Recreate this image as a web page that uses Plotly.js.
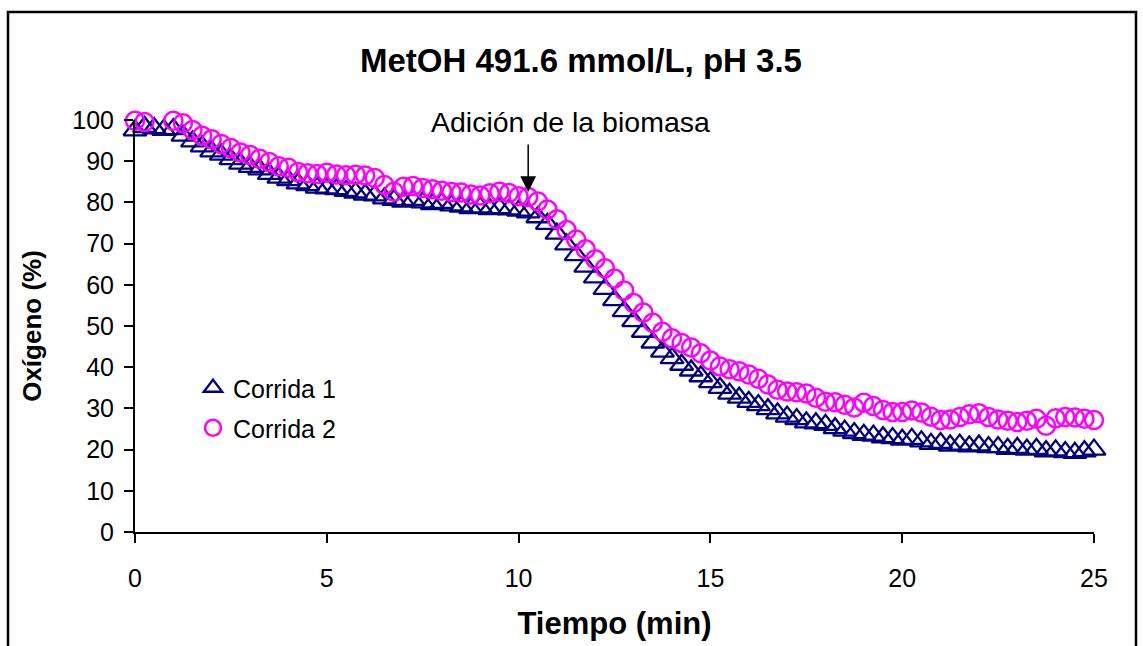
<!DOCTYPE html>
<html>
<head>
<meta charset="utf-8">
<script src="https://cdn.plot.ly/plotly-3.0.1.min.js"></script>
<style>html,body{margin:0;padding:0;background:#fff;}#chart{width:1143px;height:646px;}</style>
</head>
<body>
<div id="chart"></div>
<script>
const chartTitle = "MetOH 491.6 mmol/L, pH 3.5";
const xTitle = "Tiempo (min)";
const yTitle = "Oxígeno (%)";
const seriesNames = ["Corrida 1", "Corrida 2"];
const annotationText = "Adición de la biomasa";
const annotationX = 10.25;
const annotationY = 82.5;

const tiempo = [0,0.25,0.5,0.75,1,1.25,1.5,1.75,2,2.25,2.5,2.75,3,3.25,3.5,3.75,4,4.25,4.5,4.75,
5,5.25,5.5,5.75,6,6.25,6.5,6.75,7,7.25,7.5,7.75,8,8.25,8.5,8.75,9,9.25,9.5,9.75,
10,10.25,10.5,10.75,11,11.25,11.5,11.75,12,12.25,12.5,12.75,13,13.25,13.5,13.75,14,14.25,14.5,14.75,
15,15.25,15.5,15.75,16,16.25,16.5,16.75,17,17.25,17.5,17.75,18,18.25,18.5,18.75,19,19.25,19.5,19.75,
20,20.25,20.5,20.75,21,21.25,21.5,21.75,22,22.25,22.5,22.75,23,23.25,23.5,23.75,24,24.25,24.5,24.75,25];

const corrida1 = [97.5,98.3,98.0,97.6,97.8,96.2,94.8,93.6,92.4,91.6,90.5,89.4,88.6,88.0,86.9,86.0,85.4,84.6,84.2,83.6,
83.4,83.2,82.8,82.4,81.9,81.7,81.0,80.6,80.2,80.6,80.0,79.6,79.9,79.3,79.0,78.6,78.8,78.4,78.6,78.3,
78.0,77.6,76.4,74.8,72.4,69.8,67.2,64.4,61.8,59.0,56.3,53.6,51.2,48.6,46.0,43.8,42.2,40.6,39.2,37.8,
36.4,35.0,33.6,32.6,31.6,30.8,29.8,28.8,28.0,27.4,26.6,26.4,26.0,25.2,24.6,24.0,23.6,23.4,23.0,22.8,
22.4,22.6,22.0,21.4,21.6,21.0,21.2,20.8,21.0,20.6,20.6,20.2,20.4,20.0,20.2,19.6,19.8,19.4,19.2,19.6,20.0];

const corrida2 = [99.8,99.5,100.2,100.5,99.8,99.2,97.6,96.2,95.3,94.2,93.2,92.1,91.5,90.6,89.8,88.8,88.4,87.4,87.1,86.9,
87.2,86.8,86.6,86.7,86.5,85.9,84.2,82.6,83.8,84.0,83.5,83.2,82.8,82.5,82.4,81.9,81.7,82.2,82.6,82.3,
81.5,81.3,80.2,78.3,75.9,73.3,71.0,68.6,66.2,64.0,61.5,58.6,55.6,53.3,50.8,48.6,47.0,45.9,44.8,43.4,
41.6,40.2,39.5,39.0,38.2,37.2,35.8,34.5,34.1,33.9,33.6,32.6,31.6,31.5,30.9,30.2,31.4,30.6,29.6,29.1,
29.1,29.5,29.0,28.0,27.2,27.3,27.9,28.6,28.8,27.9,27.3,27.0,26.7,27.0,27.5,25.8,27.6,27.9,27.8,27.5,27.2];

const xTicks = [0,5,10,15,20,25];
const yTicks = [0,10,20,30,40,50,60,70,80,90,100];

const FONT = "Liberation Sans, Arial, sans-serif";

const traces = [
  {
    x: tiempo, y: corrida1, name: seriesNames[0], type: "scatter", mode: "markers",
    cliponaxis: false, legend: "legend",
    marker: {symbol: "triangle-up-open", size: 20, color: "#000080", line: {color: "#000080", width: 2.3}}
  },
  {
    x: tiempo, y: corrida2, name: seriesNames[1], type: "scatter", mode: "markers",
    cliponaxis: false, legend: "legend2",
    marker: {symbol: "circle-open", size: 18, color: "#FF00FF", line: {color: "#FF00FF", width: 2.5}}
  }
];

const layout = {
  width: 1143, height: 646,
  paper_bgcolor: "#ffffff", plot_bgcolor: "#ffffff",
  margin: {l: 135, r: 49, t: 120, b: 114},
  font: {family: FONT, color: "#000000"},
  title: {
    text: "<b>" + chartTitle + "</b>",
    font: {family: FONT, size: 33, color: "#000000"},
    x: 581/1143, xref: "container", xanchor: "center",
    y: 1 - 60/646, yref: "container", yanchor: "middle"
  },
  xaxis: {
    range: [0, 25], tickvals: xTicks, ticktext: xTicks.map(String),
    showline: true, linecolor: "#000000", linewidth: 2,
    ticks: "outside", ticklen: 9, tickwidth: 2, tickcolor: "#000000",
    showgrid: false, zeroline: false,
    tickfont: {family: FONT, size: 25, color: "#000000"},
    ticklabelstandoff: 14,
    title: {text: "<b>" + xTitle + "</b>", font: {family: FONT, size: 31, color: "#000000"}, standoff: 21}
  },
  yaxis: {
    range: [0, 100], tickvals: yTicks, ticktext: yTicks.map(String),
    showline: true, linecolor: "#000000", linewidth: 2,
    ticks: "outside", ticklen: 9, tickwidth: 2, tickcolor: "#000000",
    showgrid: false, zeroline: false,
    tickfont: {family: FONT, size: 25, color: "#000000"},
    ticklabelstandoff: 5,
    title: {text: "<b>" + yTitle + "</b>", font: {family: FONT, size: 26, color: "#000000"}, standoff: 23}
  },
  legend: {
    x: (193-135)/959, y: (532-388)/412, xanchor: "left", yanchor: "middle",
    bgcolor: "rgba(0,0,0,0)", borderwidth: 0,
    font: {family: FONT, size: 25, color: "#000000"}
  },
  legend2: {
    x: (193-135)/959, y: (532-428)/412, xanchor: "left", yanchor: "middle",
    bgcolor: "rgba(0,0,0,0)", borderwidth: 0,
    font: {family: FONT, size: 25, color: "#000000"}
  },
  annotations: [
    {
      text: annotationText, xref: "paper", yref: "paper",
      x: (570-135)/959, y: (532-122)/412, xanchor: "center", yanchor: "middle",
      showarrow: false, font: {family: FONT, size: 28.5, color: "#000000"}
    },
    {
      text: "", x: annotationX, y: annotationY, xref: "x", yref: "y",
      showarrow: true, ax: 0, ay: -49, axref: "pixel", ayref: "pixel",
      arrowhead: 2, arrowsize: 2.1, arrowwidth: 1.5, arrowcolor: "#000000", standoff: 0
    }
  ],
  shapes: [
    {
      type: "rect", xref: "paper", yref: "paper",
      x0: (8-135)/959, x1: (1136-135)/959, y0: (532-700)/412, y1: (532-12)/412,
      line: {color: "#000000", width: 2.5}, fillcolor: "rgba(0,0,0,0)", layer: "below"
    }
  ],
  showlegend: true
};

Plotly.newPlot("chart", traces, layout, {displayModeBar: false, staticPlot: true});
</script>
</body>
</html>
